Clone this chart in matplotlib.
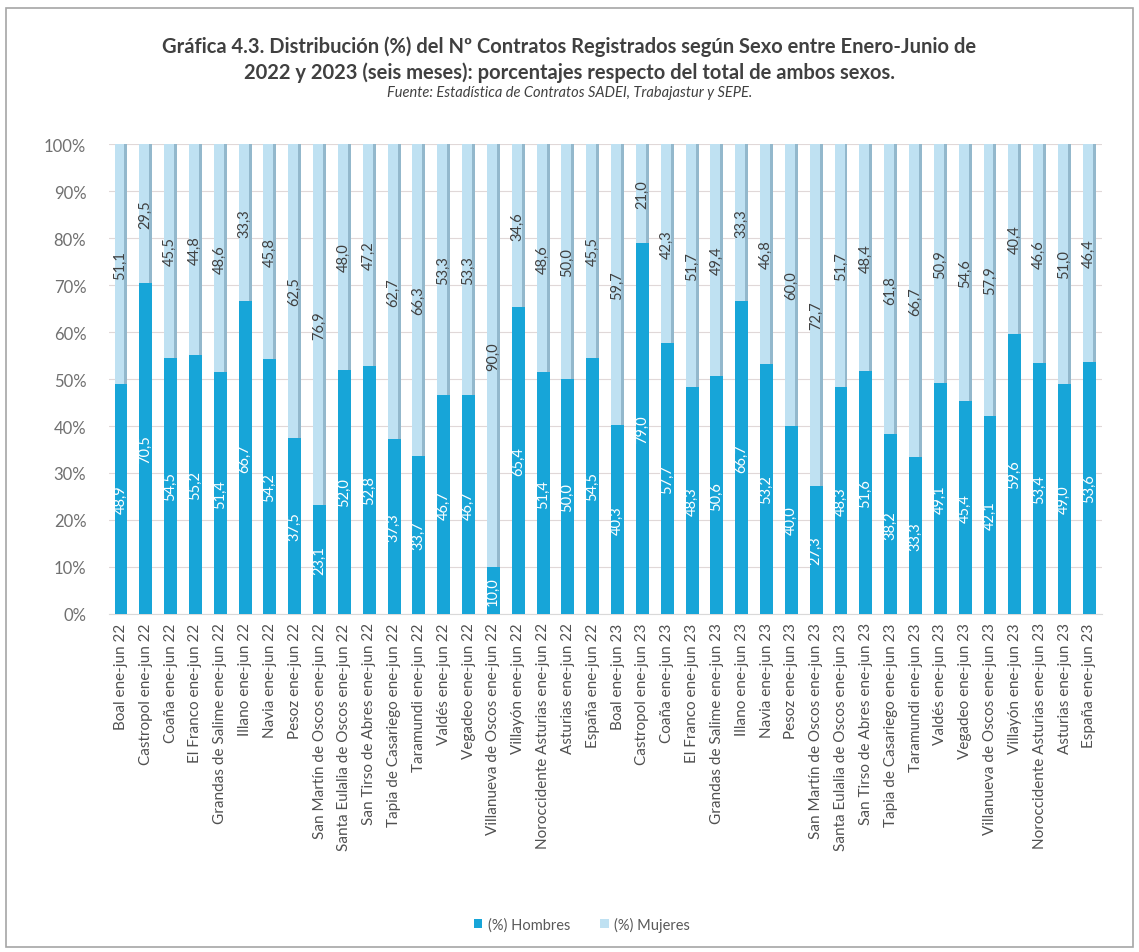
import matplotlib
matplotlib.use("Agg")
import matplotlib.pyplot as plt
from matplotlib.patches import Rectangle
import numpy as np

plt.rcParams['font.family'] = ['Lato', 'DejaVu Sans']

municipios = ["Boal", "Castropol", "Coaña", "El Franco", "Grandas de Salime", "Illano",
              "Navia", "Pesoz", "San Martín de Oscos", "Santa Eulalia de Oscos",
              "San Tirso de Abres", "Tapia de Casariego", "Taramundi", "Valdés", "Vegadeo",
              "Villanueva de Oscos", "Villayón", "Noroccidente Asturias", "Asturias", "España"]
periodos = ["ene-jun 22", "ene-jun 23"]

hombres_22 = [48.9, 70.5, 54.5, 55.2, 51.4, 66.7, 54.2, 37.5, 23.1, 52.0,
              52.8, 37.3, 33.7, 46.7, 46.7, 10.0, 65.4, 51.4, 50.0, 54.5]
mujeres_22 = [51.1, 29.5, 45.5, 44.8, 48.6, 33.3, 45.8, 62.5, 76.9, 48.0,
              47.2, 62.7, 66.3, 53.3, 53.3, 90.0, 34.6, 48.6, 50.0, 45.5]
hombres_23 = [40.3, 79.0, 57.7, 48.3, 50.6, 66.7, 53.2, 40.0, 27.3, 48.3,
              51.6, 38.2, 33.3, 49.1, 45.4, 42.1, 59.6, 53.4, 49.0, 53.6]
mujeres_23 = [59.7, 21.0, 42.3, 51.7, 49.4, 33.3, 46.8, 60.0, 72.7, 51.7,
              48.4, 61.8, 66.7, 50.9, 54.6, 57.9, 40.4, 46.6, 51.0, 46.4]

labels = [f"{m} {periodos[0]}" for m in municipios] + [f"{m} {periodos[1]}" for m in municipios]
hombres = hombres_22 + hombres_23
mujeres = mujeres_22 + mujeres_23

c_h = "#17a5d8"
c_m = "#bfe1f2"
c_m_shade = "#93b8cc"

fig = plt.figure(figsize=(11.39, 9.53), dpi=100)
fig.patch.set_facecolor("white")
# outer border
fig.patches.append(Rectangle((0.005, 0.005), 0.99, 0.986, transform=fig.transFigure,
                             fill=False, edgecolor="#a6a6a6", linewidth=1.2))

ax = fig.add_axes([0.0953, 0.3547, 0.872, 0.4931])
x = np.arange(len(labels))
w = 0.52
ax.bar(x, hombres, w, color=c_h, label="(%) Hombres", zorder=3)
ax.bar(x, mujeres, w, bottom=hombres, color=c_m, label="(%) Mujeres", zorder=3)
# subtle shading strip on right side of the light segment
ax.bar(x + w / 2 - 0.06, mujeres, 0.12, bottom=hombres, color=c_m_shade, zorder=3,
       linewidth=0)

for xi, h, m in zip(x, hombres, mujeres):
    ax.text(xi - 0.02, h / 2, f"{h:.1f}".replace(".", ","), rotation=90, ha="center", va="center",
            color="white", fontsize=10.5, zorder=4)
    ax.text(xi - 0.02, h + m / 2, f"{m:.1f}".replace(".", ","), rotation=90, ha="center", va="center",
            color="#404040", fontsize=10.5, zorder=4)

ax.set_xlim(-0.5, len(labels) - 0.5)
ax.set_ylim(0, 100)
ax.set_yticks(np.arange(0, 101, 10))
ax.set_yticklabels([f"{v}%" for v in range(0, 101, 10)], fontsize=12, color="#707070")
ax.set_xticks(x)
ax.set_xticklabels(labels, rotation=90, fontsize=11, color="#505050")
ax.tick_params(axis="x", length=0, pad=6)
ax.tick_params(axis="y", length=0, pad=16)
ax.grid(axis="y", color="#e0d8d8", linewidth=0.8, zorder=0)
for s in ["top", "right", "left"]:
    ax.spines[s].set_visible(False)
ax.spines["bottom"].set_color("#d9d9d9")

fig.text(0.5, 0.951, "Gráfica 4.3. Distribución (%) del Nº Contratos Registrados según Sexo entre Enero-Junio de",
         ha="center", va="center", fontsize=14.5, fontweight="bold", color="#404040")
fig.text(0.5, 0.924, "2022 y 2023 (seis meses): porcentajes respecto del total de ambos sexos.",
         ha="center", va="center", fontsize=14.5, fontweight="bold", color="#404040")
fig.text(0.5, 0.902, "Fuente: Estadística de Contratos SADEI, Trabajastur y SEPE.",
         ha="center", va="center", fontsize=10.5, style="italic", color="#404040")

fig.legend(loc="center", bbox_to_anchor=(0.511, 0.029), ncol=2, frameon=False,
           fontsize=10.5, handlelength=0.6, handleheight=0.6, columnspacing=2.0,
           handletextpad=0.4, labelcolor="#595959")

fig.savefig("out.png", dpi=100, facecolor="white")
